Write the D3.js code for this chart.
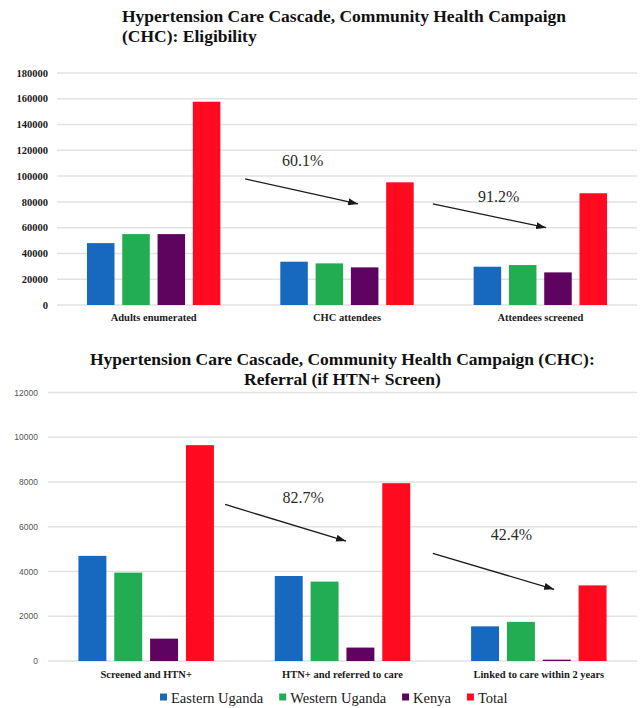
<!DOCTYPE html>
<html>
<head>
<meta charset="utf-8">
<script src="https://cdn.jsdelivr.net/npm/d3@7"></script>
<style>
  body { margin: 0; background: #fff; }
  svg { display: block; }
</style>
</head>
<body>
<div id="chart"></div>
<script>
// series shared by both panels
const series = ["Eastern Uganda", "Western Uganda", "Kenya", "Total"];
const seriesColors = ["#1769c0", "#22ad52", "#5e0460", "#ff0a1e"];

// panel 1: eligibility
const eligCategories = ["Adults enumerated", "CHC attendees", "Attendees screened"];
const eligEastern = [48000, 33600, 29700];
const eligWestern = [55000, 32300, 31000];
const eligKenya = [55000, 29200, 25300];
const eligTotal = [157700, 95200, 86700];
const eligTicks = [0, 20000, 40000, 60000, 80000, 100000, 120000, 140000, 160000, 180000];
const eligSteps = ["60.1%", "91.2%"];

// panel 2: referral
const refCategories = ["Screened and HTN+", "HTN+ and referred to care", "Linked to care within 2 years"];
const refEastern = [4700, 3800, 1550];
const refWestern = [3950, 3550, 1750];
const refKenya = [1000, 600, 60];
const refTotal = [9650, 7950, 3380];
const refTicks = [0, 2000, 4000, 6000, 8000, 10000, 12000];
const refSteps = ["82.7%", "42.4%"];

const W = 644, H = 708;
const serif = "'Liberation Serif', 'Times New Roman', serif";

const svg = d3.select("#chart").append("svg")
    .attr("width", W)
    .attr("height", H);

svg.append("rect").attr("width", W).attr("height", H).attr("fill", "#fff");

svg.append("defs").append("marker")
    .attr("id", "head")
    .attr("markerUnits", "userSpaceOnUse")
    .attr("viewBox", "0 0 10 7")
    .attr("refX", 10).attr("refY", 3.5)
    .attr("markerWidth", 10).attr("markerHeight", 7)
    .attr("orient", "auto")
    .append("path")
    .attr("d", "M0,0L10,3.5L0,7Z")
    .attr("fill", "#1a1a1a");

function drawPanel(opt) {
    const x0 = d3.scaleBand().domain(opt.categories).range(opt.xRange);
    const y = d3.scaleLinear().domain([0, d3.max(opt.ticks)]).range(opt.yRange);
    const groupW = x0.bandwidth() * 0.69;
    const x1 = d3.scaleBand().domain(series).range([0, groupW]).paddingInner(0.22);
    const color = d3.scaleOrdinal().domain(series).range(seriesColors);

    const g = svg.append("g");

    // gridlines
    g.selectAll(".grid").data(opt.ticks).enter().append("line")
        .attr("x1", opt.xRange[0]).attr("x2", opt.xRange[1])
        .attr("y1", d => y(d)).attr("y2", d => y(d))
        .attr("stroke", "#e2e2e2").attr("stroke-width", 1.5);

    // y tick labels
    g.selectAll(".tick").data(opt.ticks).enter().append("text")
        .attr("x", opt.xRange[0] - opt.tickGap)
        .attr("y", d => y(d))
        .attr("dy", "0.35em")
        .attr("text-anchor", "end")
        .attr("font-family", opt.tickFont)
        .attr("font-weight", opt.tickWeight)
        .attr("font-size", opt.tickSize)
        .attr("fill", opt.tickColor)
        .text(d => d);

    // bars
    const rows = opt.categories.map((c, i) => ({
        cat: c,
        vals: series.map((s, j) => ({ s: s, v: opt.values[j][i] }))
    }));

    const grp = g.selectAll(".grp").data(rows).enter().append("g")
        .attr("transform", d => `translate(${x0(d.cat) + (x0.bandwidth() - groupW) / 2},0)`);

    grp.selectAll("rect").data(d => d.vals).enter().append("rect")
        .attr("x", d => x1(d.s))
        .attr("width", x1.bandwidth())
        .attr("y", d => y(d.v))
        .attr("height", d => y(0) - y(d.v))
        .attr("fill", d => color(d.s));

    // category labels
    g.selectAll(".cat").data(opt.categories).enter().append("text")
        .attr("x", d => x0(d) + x0.bandwidth() / 2)
        .attr("y", opt.catY)
        .attr("text-anchor", "middle")
        .attr("font-family", serif)
        .attr("font-weight", "bold")
        .attr("font-size", 10.5)
        .attr("fill", "#1a1a1a")
        .text(d => d);

    // cascade arrows, positioned in band units / data values
    const bx = t => opt.xRange[0] + t * x0.step();
    opt.arrows.forEach((a, i) => {
        g.append("line")
            .attr("x1", bx(a.t0)).attr("y1", y(a.v0))
            .attr("x2", bx(a.t1)).attr("y2", y(a.v1))
            .attr("stroke", "#1a1a1a").attr("stroke-width", 1.3)
            .attr("marker-end", "url(#head)");
        g.append("text")
            .attr("x", bx(a.tl)).attr("y", y(a.vl))
            .attr("font-family", serif)
            .attr("font-size", 16)
            .attr("fill", "#2a2a2a")
            .text(opt.steps[i]);
    });

    // title
    const t = g.append("g").attr("font-family", serif).attr("font-weight", "bold")
        .attr("font-size", 17.5).attr("fill", "#111");
    const l1 = t.append("text").attr("x", opt.titleX).attr("y", opt.titleY).text(opt.title[0]);
    if (opt.titleCentered) {
        const cx = opt.titleX + l1.node().getComputedTextLength() / 2;
        l1.attr("x", cx).attr("text-anchor", "middle");
        t.append("text").attr("x", cx).attr("y", opt.titleY + 20)
            .attr("text-anchor", "middle").text(opt.title[1]);
    } else {
        t.append("text").attr("x", opt.titleX).attr("y", opt.titleY + 20).text(opt.title[1]);
    }
}

drawPanel({
    categories: eligCategories,
    values: [eligEastern, eligWestern, eligKenya, eligTotal],
    ticks: eligTicks,
    steps: eligSteps,
    xRange: [57, 637],
    yRange: [305, 73],
    tickGap: 9,
    tickFont: serif,
    tickWeight: "bold",
    tickSize: 10.5,
    tickColor: "#1a1a1a",
    catY: 321,
    title: ["Hypertension Care Cascade, Community Health Campaign", "(CHC): Eligibility"],
    titleX: 122,
    titleY: 22,
    titleCentered: false,
    arrows: [
        { t0: 0.973, v0: 97800, t1: 1.557, v1: 78400, tl: 1.164, vl: 107800 },
        { t0: 1.944, v0: 78400, t1: 2.530, v1: 60000, tl: 2.178, vl: 80100 }
    ]
});

drawPanel({
    categories: refCategories,
    values: [refEastern, refWestern, refKenya, refTotal],
    ticks: refTicks,
    steps: refSteps,
    xRange: [48, 637],
    yRange: [661, 392.6],
    tickGap: 10,
    tickFont: "'Liberation Sans', Arial, sans-serif",
    tickWeight: "normal",
    tickSize: 8.5,
    tickColor: "#555",
    catY: 678,
    title: ["Hypertension Care Cascade, Community Health Campaign (CHC):", "Referral (if HTN+ Screen)"],
    titleX: 90,
    titleY: 365,
    titleCentered: true,
    arrows: [
        { t0: 0.902, v0: 7000, t1: 1.518, v1: 5360, tl: 1.194, vl: 7060 },
        { t0: 1.960, v0: 4815, t1: 2.578, v1: 3205, tl: 2.255, vl: 5410 }
    ]
});

// legend
const legend = svg.append("g").attr("font-family", serif).attr("font-size", 14.5).attr("fill", "#1a1a1a");
let lx = 160;
series.forEach((s, i) => {
    legend.append("rect")
        .attr("x", lx).attr("y", 693.5).attr("width", 7).attr("height", 7)
        .attr("fill", seriesColors[i]);
    const txt = legend.append("text").attr("x", lx + 11).attr("y", 703).text(s);
    lx += 11 + txt.node().getComputedTextLength() + 16;
});
</script>
</body>
</html>
